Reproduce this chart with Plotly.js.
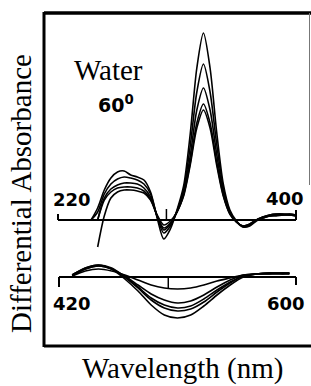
<!DOCTYPE html>
<html><head><meta charset="utf-8">
<script src="https://cdn.plot.ly/plotly-3.0.1.min.js"></script>
<style>html,body{margin:0;padding:0;background:#fff}#c{width:311px;height:386px}</style>
</head><body><div id="c"></div>
<script>
// UV region (220-400 nm), differential absorbance (arbitrary units)
const uvWavelength = [245,250,255,260,265,270,275,280,285,290,295,300,305,310,315,320,325,330,335,340,345,350,355,360,365,370,375,380,385,390,395,400];
const uv1 = [0,12,30,42,48,49,45,43,40,28,2,-19,-9,10,34,86,152,187,152,88,36,10,-1,-7,-6,-1,3,5,6,6,6,5];
const uv2 = [0,8,26,36,41,43,42,40,36,26,3,-13,-6,9,30,74,128,156,128,76,32,8,-2,-7,-5,0,3,5,6,6,5,5];
const uv3 = [null,0,22,31,35,37,37,36,32,23,4,-8,-3,8,27,64,110,132,110,66,28,7,-2,-6,-5,0,3,4,5,5,6,5];
const uv4 = [null,0,20,28,32,33,33,32,29,21,5,-5,-1,8,25,57,97,116,97,58,25,6,-2,-6,-4,0,2,4,5,5,5,4];
const uv5 = [null,-27,4,22,28,30,30,29,27,20,4,-10,-4,8,24,55,92,110,92,55,24,6,-2,-6,-4,0,2,4,4,5,5,4];

// Visible region (420-600 nm)
const visWavelength = [430,440,450,460,470,480,490,500,510,520,530,540,550,560,570,580,590,595];
const vis1 = [2,9,12,8,-2,-14,-28,-38,-41,-38,-29,-18,-8,0,3,4,4,4];
const vis2 = [2,9,12,9,0,-11,-23,-31,-34,-32,-25,-15,-6,1,3,4,4,4];
const vis3 = [2,8,11,8,0,-10,-21,-28,-31,-29,-22,-13,-5,1,3,4,3,4];
const vis4 = [1,8,11,8,1,-8,-17,-23,-26,-24,-18,-10,-3,2,3,3,4,3];
const vis5 = [1,6,8,6,2,-3,-8,-11,-12,-11,-8,-4,-1,2,3,3,3,3];

const uvRange = [220, 400];
const visRange = [420, 600];
const uvMark = 302, visMark = 503;

const W = 311, H = 386;
const px = x => x / W, py = y => 1 - y / H;

const lineStyle = {color: '#000', width: 1.6, shape: 'spline', smoothing: 0.8};
const traces = [];
[uv1, uv2, uv3, uv4, uv5].forEach(s => traces.push({
  x: uvWavelength, y: s, type: 'scatter', mode: 'lines', line: lineStyle,
  xaxis: 'x', yaxis: 'y', connectgaps: false, hoverinfo: 'skip'
}));
[vis1, vis2, vis3, vis4, vis5].forEach(s => traces.push({
  x: visWavelength, y: s, type: 'scatter', mode: 'lines', line: lineStyle,
  xaxis: 'x2', yaxis: 'y2', hoverinfo: 'skip'
}));

const hidden = {visible: false, fixedrange: true};
const blk = {color: '#000', width: 2};
const shapes = [
  {type: 'line', xref: 'paper', yref: 'paper', x0: px(44), x1: px(311), y0: py(13), y1: py(13), line: {color: '#000', width: 3.5}},
  {type: 'line', xref: 'paper', yref: 'paper', x0: px(44), x1: px(44), y0: py(12), y1: py(347), line: {color: '#000', width: 3}},
  {type: 'line', xref: 'paper', yref: 'paper', x0: px(44), x1: px(311), y0: py(346), y1: py(346), line: {color: '#000', width: 3}},
  {type: 'line', xref: 'paper', yref: 'paper', x0: px(309.5), x1: px(309.5), y0: py(13), y1: py(185), line: {color: '#777', width: 1}},
  {type: 'line', xref: 'x', yref: 'y', x0: uvRange[0], x1: uvRange[1], y0: 0, y1: 0, line: blk},
  {type: 'line', xref: 'x', yref: 'y', x0: uvRange[0], x1: uvRange[0], y0: 0, y1: 6, line: blk},
  {type: 'line', xref: 'x', yref: 'y', x0: uvRange[1], x1: uvRange[1], y0: 0, y1: 10, line: blk},
  {type: 'line', xref: 'x', yref: 'y', x0: uvMark, x1: uvMark, y0: 0, y1: 11, line: {color: '#000', width: 1.5}},
  {type: 'line', xref: 'x2', yref: 'y2', x0: visRange[0], x1: visRange[1], y0: 0, y1: 0, line: blk},
  {type: 'line', xref: 'x2', yref: 'y2', x0: visRange[0], x1: visRange[0], y0: 0, y1: -10, line: blk},
  {type: 'line', xref: 'x2', yref: 'y2', x0: visRange[1], x1: visRange[1], y0: 0, y1: -8, line: blk},
  {type: 'line', xref: 'x2', yref: 'y2', x0: visMark, x1: visMark, y0: 0, y1: -12, line: {color: '#000', width: 1.5}}
];

const sansB = {family: 'DejaVu Sans', size: 18, color: '#000'};
const serifFont = size => ({family: 'serif', size, color: '#000'});
const ann = (text, x, y, font, extra) => Object.assign({
  text, xref: 'paper', yref: 'paper', x: px(x), y: py(y), showarrow: false,
  xanchor: 'center', yanchor: 'middle', font
}, extra || {});
const annotations = [
  ann('Water', 108, 70, serifFont(29)),
  ann('<b>60<sup>0</sup></b>', 116, 104, {family: 'DejaVu Sans', size: 19, color: '#000'}),
  ann('<b>220</b>', 72, 199, sansB),
  ann('<b>400</b>', 285, 198, sansB),
  ann('<b>420</b>', 72, 303, sansB),
  ann('<b>600</b>', 286, 303, sansB),
  ann('Differential Absorbance', 21, 194, serifFont(29), {textangle: -90}),
  ann('Wavelength (nm)', 182, 368, serifFont(29))
];

const s1 = 238 / 180, s2 = 237 / 180;
const layout = {
  width: W, height: H, margin: {l: 0, r: 0, t: 0, b: 0},
  paper_bgcolor: '#fff', plot_bgcolor: '#fff', showlegend: false,
  xaxis: Object.assign({range: [uvRange[0] - 58 / s1, uvRange[0] - 58 / s1 + W / s1]}, hidden),
  xaxis2: Object.assign({range: [visRange[0] - 59 / s2, visRange[0] - 59 / s2 + W / s2], overlaying: 'x'}, hidden),
  yaxis: Object.assign({range: [-(H - 220), 220]}, hidden),
  yaxis2: Object.assign({range: [-(H - 277), 277], overlaying: 'y'}, hidden),
  shapes, annotations
};
Plotly.newPlot('c', traces, layout, {staticPlot: true, displayModeBar: false});
</script></body></html>
